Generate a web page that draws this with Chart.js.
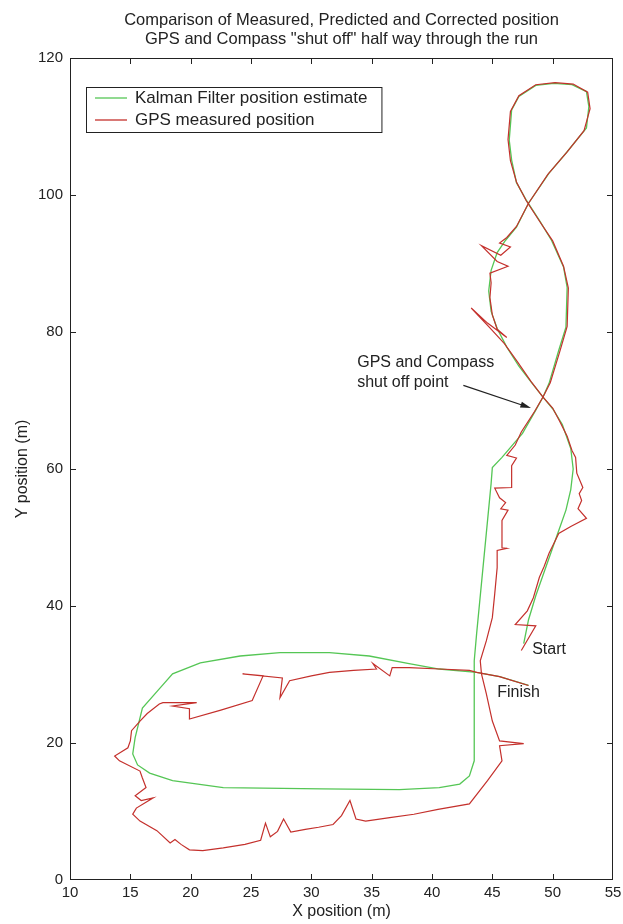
<!DOCTYPE html>
<html>
<head>
<meta charset="utf-8">
<script src="https://cdn.jsdelivr.net/npm/chart.js@4.4.1/dist/chart.umd.min.js"></script>
<style>
  html, body { margin: 0; padding: 0; background: #fff; }
  canvas { display: block; }
</style>
</head>
<body>
<canvas id="track-chart" width="623" height="924"></canvas>
<script>
// Kalman filter estimate (x, y in metres)
const kalmanX = [47.6, 48.0, 48.6, 49.3, 50.0, 50.6, 51.1, 51.5, 51.7, 51.5, 50.8, 50.0, 49.2, 48.3, 47.2, 46.2, 45.4, 44.9, 44.7, 44.9,
  45.4, 46.1, 47.0, 48.0, 49.7, 51.1, 52.8, 53.0, 52.8, 51.6, 50.1, 48.6, 47.2, 46.6, 46.4, 46.6, 47.0, 47.8, 48.9, 49.9,
  50.9, 51.2, 51.1, 50.5, 49.7, 49.2, 48.6, 47.5, 45.8, 45.0, 44.9, 44.5, 44.1, 43.7, 43.5, 43.5, 43.5, 43.1, 42.3, 40.6,
  37.3, 30.9, 22.7, 18.5, 16.6, 15.6, 15.2, 15.4, 16.0, 17.4, 18.5, 20.8, 24.1, 27.4, 31.5, 34.8, 38.1, 40.6, 43.7, 45.6, 48.0];
const kalmanY = [34.5, 38.0, 41.5, 45.0, 48.5, 51.5, 54.0, 57.0, 60.0, 63.0, 66.5, 68.8, 70.5, 72.5, 75.0, 77.8, 80.5, 83.0, 86.0, 89.0,
  91.6, 93.4, 95.3, 98.8, 103.2, 106.1, 109.8, 112.9, 115.1, 116.1, 116.3, 116.0, 114.4, 112.4, 108.0, 105.1, 101.8, 99.3, 96.3, 93.4,
  89.5, 86.5, 80.7, 77.3, 72.5, 70.5, 68.6, 65.2, 61.7, 60.2, 57.9, 50.6, 43.3, 36.0, 32.0, 22.2, 17.4, 15.2, 14.0, 13.5,
  13.2, 13.3, 13.5, 14.5, 15.6, 16.8, 18.4, 20.8, 25.1, 27.9, 30.1, 31.7, 32.7, 33.2, 33.2, 32.7, 31.6, 30.8, 30.3, 29.7, 28.4];

// GPS measured position (x, y in metres)
const gpsX = [47.4, 48.6, 46.9, 47.9, 48.4, 48.9, 49.3, 49.7, 50.2, 50.5, 51.5, 52.8, 52.1, 52.4, 52.2, 52.5, 52.0, 51.9, 51.6, 51.2,
  50.6, 50.0, 49.2, 48.2, 47.1, 46.0, 44.8, 43.25, 44.6, 46.2, 45.4, 45.0, 44.8, 44.9, 44.8, 46.3, 45.4, 44.1, 45.7, 46.5,
  45.6, 46.2, 47.0, 48.0, 49.6, 51.2, 52.6, 53.1, 52.9, 51.7, 50.2, 48.6, 47.2, 46.5, 46.3, 46.5, 47.0, 47.8, 48.9, 50.0,
  50.9, 51.3, 51.2, 50.6, 49.8, 49.2, 48.5, 47.4, 46.9, 46.2, 47.0, 46.6, 46.6, 45.2, 45.6, 46.1, 45.7, 46.3, 45.8, 45.8,
  46.2, 45.4, 45.4, 45.2, 45.0, 44.5, 44.0, 44.1, 44.5, 45.0, 45.6, 47.6, 45.6, 45.8, 44.6, 43.1, 40.5, 38.5, 36.5, 34.5,
  33.7, 33.2, 32.5, 31.8, 30.6, 29.5, 28.3, 27.7, 27.2, 26.6, 26.2, 25.8, 24.5, 22.7, 21.0, 19.9, 19.2, 18.7, 18.3, 17.2,
  15.8, 15.2, 15.5, 16.9, 15.9, 15.4, 16.3, 16.0, 15.8, 14.1, 13.7, 14.8, 15.0, 15.1, 15.8, 16.4, 17.4, 17.7, 20.5, 18.5,
  19.9, 19.9, 22.5, 25.1, 26.0, 24.3, 27.6, 27.4, 28.2, 30.0, 31.5, 33.5, 35.4, 35.1, 36.5, 36.7, 38.1, 40.6, 43.1, 43.7,
  45.6, 48.0];
const gpsY = [33.5, 37.1, 37.3, 39.3, 41.2, 44.2, 45.8, 47.7, 49.5, 50.6, 51.6, 52.8, 54.2, 55.4, 56.4, 57.3, 59.4, 61.7, 62.7, 64.8,
  66.9, 68.9, 70.5, 72.8, 75.6, 78.3, 80.6, 83.5, 81.3, 79.2, 80.4, 82.5, 85.0, 87.2, 88.6, 89.6, 90.3, 92.6, 91.2, 92.4,
  93.0, 93.8, 95.4, 98.8, 103.0, 106.3, 109.4, 112.6, 115.0, 116.2, 116.4, 116.1, 114.5, 112.2, 108.1, 105.0, 101.9, 99.2, 96.2, 93.3,
  89.6, 86.4, 80.8, 77.2, 72.6, 70.5, 68.4, 65.4, 63.5, 62.0, 61.6, 60.5, 57.3, 57.2, 55.8, 55.1, 54.2, 54.0, 52.5, 48.5,
  48.4, 48.1, 45.6, 41.8, 38.3, 34.9, 32.0, 30.1, 27.2, 23.2, 20.3, 19.9, 19.6, 17.4, 14.5, 11.1, 10.3, 9.6, 9.1, 8.6,
  8.9, 11.6, 9.4, 8.1, 7.7, 7.4, 7.0, 8.9, 7.1, 6.3, 8.3, 5.8, 5.2, 4.7, 4.3, 4.4, 5.2, 5.9, 5.4, 7.2,
  8.6, 9.6, 10.5, 12.0, 11.6, 12.3, 13.5, 14.9, 15.9, 17.4, 18.1, 19.3, 20.3, 21.8, 23.2, 24.3, 25.7, 25.9, 25.9, 25.4,
  25.0, 23.5, 24.8, 26.2, 29.8, 30.1, 29.5, 26.6, 29.1, 29.8, 30.3, 30.6, 30.8, 31.6, 29.8, 31.0, 31.0, 30.8, 30.6, 30.3,
  29.7, 28.4];

const xTicks = [10, 15, 20, 25, 30, 35, 40, 45, 50, 55];
const yTicks = [0, 20, 40, 60, 80, 100, 120];
const seriesLabels = ['Kalman Filter position estimate', 'GPS measured position'];
const titleLines = ['Comparison of Measured, Predicted and Corrected position',
  'GPS and Compass "shut off" half way through the run'];

// text notes placed in data units: [text, x, y]
const notes = [
  ['Start', 48.3, 33.6],
  ['Finish', 45.4, 27.3],
  ['GPS and Compass', 33.8, 75.5],
  ['shut off point', 33.8, 72.6]
];
const arrowFrom = [42.6, 72.2];
const arrowTo = [48.2, 68.9];

const FONT = '"Liberation Sans", Arial, sans-serif';
const INK = '#222';
const GREEN = '#55c655';
const RED = '#c4302c';

const toPoints = (xs, ys) => xs.map((x, i) => ({ x, y: ys[i] }));

const matlabFrame = {
  id: 'matlabFrame',
  afterDraw(chart) {
    const { ctx, chartArea: area, scales: { x, y } } = chart;
    ctx.save();
    ctx.strokeStyle = INK;
    ctx.lineWidth = 1;
    ctx.strokeRect(area.left + 0.5, area.top + 0.5, area.width - 1, area.height - 1);

    // inward tick marks on all four sides
    ctx.beginPath();
    xTicks.slice(1, -1).forEach(v => {
      const px = Math.round(x.getPixelForValue(v)) + 0.5;
      ctx.moveTo(px, area.bottom); ctx.lineTo(px, area.bottom - 6);
      ctx.moveTo(px, area.top); ctx.lineTo(px, area.top + 6);
    });
    yTicks.slice(1, -1).forEach(v => {
      const py = Math.round(y.getPixelForValue(v)) + 0.5;
      ctx.moveTo(area.left, py); ctx.lineTo(area.left + 6, py);
      ctx.moveTo(area.right, py); ctx.lineTo(area.right - 6, py);
    });
    ctx.stroke();

    // title
    ctx.fillStyle = INK;
    ctx.textAlign = 'center';
    ctx.textBaseline = 'middle';
    ctx.font = '16.5px ' + FONT;
    const cx = (area.left + area.right) / 2;
    titleLines.forEach((line, i) => ctx.fillText(line, cx, 20 + i * 19));

    // legend box
    ctx.font = '17px ' + FONT;
    const boxX = 86, boxY = 87, textX = 135, rowH = 22;
    const textW = Math.max(...seriesLabels.map(s => ctx.measureText(s).width));
    const boxW = textX - boxX + textW + 14, boxH = 45;
    ctx.fillStyle = '#fff';
    ctx.fillRect(boxX, boxY, boxW, boxH);
    ctx.strokeRect(boxX + 0.5, boxY + 0.5, boxW, boxH);
    [GREEN, RED].forEach((col, i) => {
      const ly = boxY + 11 + i * rowH;
      ctx.strokeStyle = col;
      ctx.lineWidth = 1.3;
      ctx.beginPath();
      ctx.moveTo(boxX + 9, ly); ctx.lineTo(textX - 8, ly);
      ctx.stroke();
      ctx.fillStyle = INK;
      ctx.textAlign = 'left';
      ctx.fillText(seriesLabels[i], textX, ly);
    });

    // notes and arrow
    ctx.font = '16px ' + FONT;
    ctx.fillStyle = INK;
    ctx.textAlign = 'left';
    notes.forEach(([t, nx, ny]) => ctx.fillText(t, x.getPixelForValue(nx), y.getPixelForValue(ny)));
    const ax0 = x.getPixelForValue(arrowFrom[0]), ay0 = y.getPixelForValue(arrowFrom[1]);
    const ax1 = x.getPixelForValue(arrowTo[0]), ay1 = y.getPixelForValue(arrowTo[1]);
    const ang = Math.atan2(ay1 - ay0, ax1 - ax0);
    ctx.strokeStyle = INK;
    ctx.lineWidth = 1.3;
    ctx.beginPath();
    ctx.moveTo(ax0, ay0); ctx.lineTo(ax1 - 8 * Math.cos(ang), ay1 - 8 * Math.sin(ang));
    ctx.stroke();
    ctx.beginPath();
    ctx.moveTo(ax1, ay1);
    ctx.lineTo(ax1 - 11 * Math.cos(ang - 0.28), ay1 - 11 * Math.sin(ang - 0.28));
    ctx.lineTo(ax1 - 11 * Math.cos(ang + 0.28), ay1 - 11 * Math.sin(ang + 0.28));
    ctx.closePath();
    ctx.fill();
    ctx.restore();
  }
};

const ctx = document.getElementById('track-chart').getContext('2d');
new Chart(ctx, {
  type: 'scatter',
  data: {
    datasets: [
      {
        label: seriesLabels[0],
        data: toPoints(kalmanX, kalmanY),
        showLine: true,
        borderColor: GREEN,
        borderWidth: 1.3,
        pointRadius: 0,
        order: 1
      },
      {
        label: seriesLabels[1],
        data: toPoints(gpsX, gpsY),
        showLine: true,
        borderColor: RED,
        borderWidth: 1.2,
        pointRadius: 0,
        order: 0
      }
    ]
  },
  options: {
    responsive: false,
    animation: false,
    devicePixelRatio: 1,
    layout: { padding: { top: 58, right: 10, left: 0, bottom: 0 } },
    scales: {
      x: {
        type: 'linear',
        min: 10,
        max: 55,
        afterFit: axis => {
          axis.height = 44;
          axis.paddingLeft = 0;
          axis.paddingRight = 0;
        },
        afterBuildTicks: axis => { axis.ticks = xTicks.map(v => ({ value: v })); },
        grid: { display: false, drawTicks: false },
        border: { display: false },
        ticks: { padding: 4, color: INK, autoSkip: false, maxRotation: 0, font: { family: FONT, size: 15 } },
        title: { display: true, text: 'X position (m)', color: INK, padding: { top: 0, bottom: 3 }, font: { family: FONT, size: 16 } }
      },
      y: {
        type: 'linear',
        min: 0,
        max: 120,
        afterFit: axis => {
          axis.width = 70;
          axis.paddingTop = 0;
          axis.paddingBottom = 0;
        },
        afterBuildTicks: axis => { axis.ticks = yTicks.map(v => ({ value: v })); },
        grid: { display: false, drawTicks: false },
        border: { display: false },
        ticks: { padding: 7, color: INK, autoSkip: false, font: { family: FONT, size: 15 } },
        title: { display: true, text: 'Y position (m)', color: INK, padding: { top: 13, bottom: 0 }, font: { family: FONT, size: 16 } }
      }
    },
    plugins: {
      legend: { display: false },
      tooltip: { enabled: false }
    }
  },
  plugins: [matlabFrame]
});
</script>
</body>
</html>
